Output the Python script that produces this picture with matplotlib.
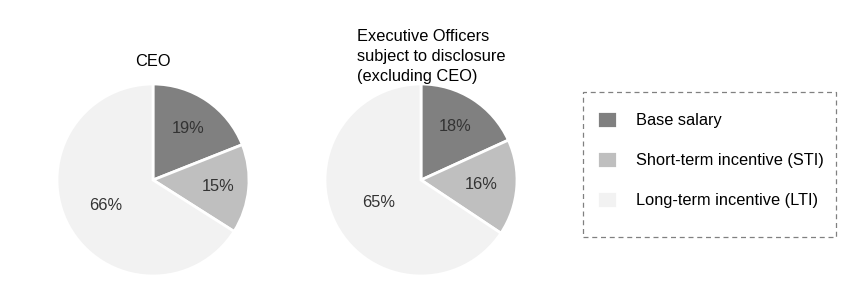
import matplotlib.pyplot as plt
from matplotlib.patches import Rectangle

plt.rcParams['font.family'] = ['Liberation Sans', 'DejaVu Sans']

categories = ['Base salary', 'Short-term incentive (STI)', 'Long-term incentive (LTI)']
colors = ['#808080', '#bfbfbf', '#f2f2f2']
ceo = [19, 15, 66]
officers = [18, 16, 65]

W, H = 864, 301
FS = 11.8
fig = plt.figure(figsize=(W / 100, H / 100), dpi=100)


def pie(ax, values, dists):
    wedges, texts = ax.pie(values, colors=colors, startangle=90, counterclock=False,
                           labels=[f'{v}%' for v in values], labeldistance=1.0,
                           wedgeprops=dict(edgecolor='white', linewidth=2))
    # pull each label in towards the centre, like the original layout
    for t, d in zip(texts, dists):
        x, y = t.get_position()
        t.set_position((x * d, y * d))
        t.set_ha('center')
        t.set_va('center')
        t.set_fontsize(FS)
        t.set_color('#333333')
    ax.set_xlim(-1, 1)
    ax.set_ylim(-1, 1)
    return wedges


r = 96
ax1 = fig.add_axes([(153 - r) / W, (H - 180 - r) / H, 2 * r / W, 2 * r / H])
ax2 = fig.add_axes([(421 - r) / W, (H - 180 - r) / H, 2 * r / W, 2 * r / H])
wedges = pie(ax1, ceo, [0.65, 0.68, 0.56])
pie(ax2, officers, [0.66, 0.63, 0.5])

fig.text(153 / W, 1 - 62 / H, 'CEO', ha='center', va='center', fontsize=FS)
fig.text(357 / W, 1 - 29 / H, 'Executive Officers\nsubject to disclosure\n(excluding CEO)',
         ha='left', va='top', fontsize=FS, linespacing=1.42)

fig.patches.append(Rectangle((583 / W, 1 - 237 / H), 253 / W, 145 / H, transform=fig.transFigure,
                             fill=False, edgecolor='#808080', linestyle=(0, (4, 3)), linewidth=0.9))
fig.legend(wedges, categories, loc='upper left', bbox_to_anchor=(597 / W, 1 - 111 / H),
           frameon=False, fontsize=FS, handlelength=1.2, handleheight=1.2,
           handletextpad=1.2, labelspacing=1.4, borderaxespad=0, borderpad=0)

fig.savefig('out.png', dpi=100)
